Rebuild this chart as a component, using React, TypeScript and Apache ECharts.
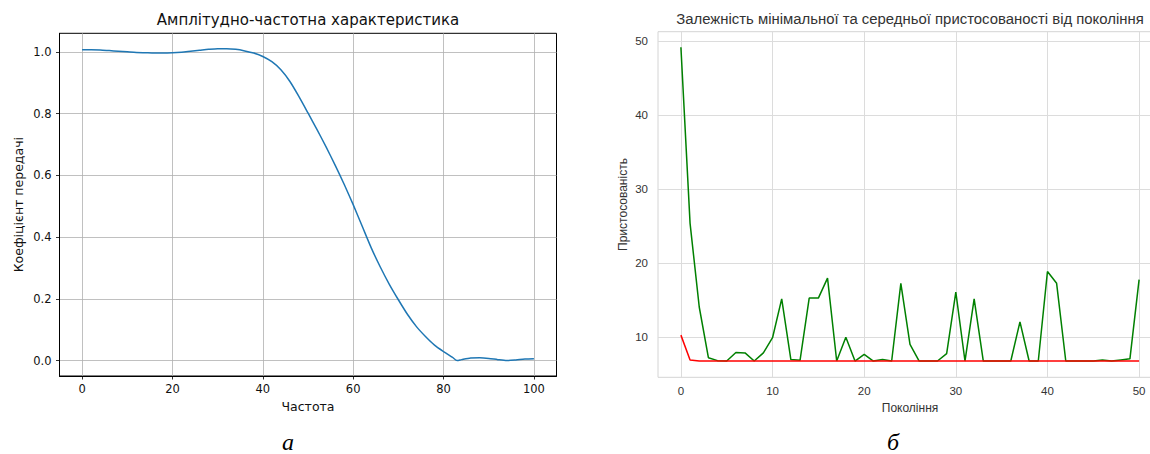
import React, { useEffect, useRef } from "react";
import * as echarts from "echarts";

// Left chart: amplitude-frequency response
const freq = [0, 2, 4, 6, 8, 10, 12, 14, 16, 18, 20, 22, 24, 26, 28, 30, 32, 34, 36, 38, 40, 42, 44, 46, 48, 50, 52, 54, 56, 58, 60, 62, 64, 66, 68, 70, 72, 74, 76, 78, 80, 82, 83, 84, 86, 88, 90, 92, 94, 96, 98, 100];
const gain = [1.007, 1.007, 1.006, 1.004, 1.002, 1.0, 0.998, 0.997, 0.996, 0.996, 0.997, 0.999, 1.002, 1.005, 1.008, 1.01, 1.01, 1.008, 1.003, 0.996, 0.985, 0.968, 0.942, 0.904, 0.855, 0.802, 0.748, 0.692, 0.633, 0.571, 0.505, 0.435, 0.365, 0.303, 0.247, 0.197, 0.15, 0.11, 0.078, 0.05, 0.029, 0.01, 0.0, 0.003, 0.008, 0.009, 0.007, 0.003, 0.0, 0.002, 0.005, 0.006];
const freqTicks = [0, 20, 40, 60, 80, 100];
const gainTicks = [0, 0.2, 0.4, 0.6, 0.8, 1.0];

// Right chart: fitness by generation
const generations = [0, 1, 2, 3, 4, 5, 6, 7, 8, 9, 10, 11, 12, 13, 14, 15, 16, 17, 18, 19, 20, 21, 22, 23, 24, 25, 26, 27, 28, 29, 30, 31, 32, 33, 34, 35, 36, 37, 38, 39, 40, 41, 42, 43, 44, 45, 46, 47, 48, 49, 50];
const avgFitness = [49.2, 25.4, 14.1, 7.25, 6.85, 6.8, 7.95, 7.9, 6.8, 7.9, 9.95, 15.2, 7.0, 6.9, 15.3, 15.3, 18.0, 6.8, 10.0, 6.8, 7.7, 6.8, 7.0, 6.8, 17.3, 9.05, 6.8, 6.8, 6.8, 7.8, 16.1, 6.8, 15.2, 6.8, 6.8, 6.8, 6.8, 12.1, 6.8, 6.8, 18.9, 17.3, 6.8, 6.8, 6.8, 6.8, 6.95, 6.8, 6.95, 7.1, 17.8];
const minFitness = [10.3, 6.95, 6.8, 6.8, 6.8, 6.8, 6.8, 6.8, 6.8, 6.8, 6.8, 6.8, 6.8, 6.8, 6.8, 6.8, 6.8, 6.8, 6.8, 6.8, 6.8, 6.8, 6.8, 6.8, 6.8, 6.8, 6.8, 6.8, 6.8, 6.8, 6.8, 6.8, 6.8, 6.8, 6.8, 6.8, 6.8, 6.8, 6.8, 6.8, 6.8, 6.8, 6.8, 6.8, 6.8, 6.8, 6.8, 6.8, 6.8, 6.8, 6.8];
const genTicks = [0, 10, 20, 30, 40, 50];
const fitTicks = [10, 20, 30, 40, 50];

const leftTitle = "Амплітудно-частотна характеристика";
const rightTitle = "Залежність мінімальної та середньої пристосованості від покоління";

const DV = '"DejaVu Sans", sans-serif';
const AR = '"Liberation Sans", Arial, sans-serif';

export default function App() {
  const ref = useRef<HTMLDivElement>(null);
  useEffect(() => {
    const chart = echarts.init(ref.current!, null, { renderer: "svg" });
    chart.setOption({
      animation: false,
      backgroundColor: "#fff",
      grid: [
        { left: 59.5, top: 33.3, width: 497, height: 342.7, show: true, borderColor: "#000", borderWidth: 1, backgroundColor: "transparent" },
        { left: 658, top: 31.7, width: 504, height: 345.6, show: true, borderColor: "#d4d4d4", borderWidth: 1, backgroundColor: "transparent" },
      ],
      xAxis: [
        {
          type: "value", gridIndex: 0, min: -5, max: 105,
          axisLine: { show: true, onZero: false, lineStyle: { color: "#000", width: 1 } },
          axisTick: { show: true, length: 3.5, customValues: freqTicks, lineStyle: { color: "#000", width: 0.8 } },
          axisLabel: { customValues: freqTicks, margin: 7, fontFamily: DV, fontSize: 11.5, color: "#111", formatter: (v: number) => String(v) },
          splitLine: { show: true, lineStyle: { color: "#b0b0b0", width: 0.8 } },
          name: "Частота", nameLocation: "middle", nameGap: 24,
          nameTextStyle: { fontFamily: DV, fontSize: 12.5, color: "#111" },
        },
        {
          type: "value", gridIndex: 1, min: -2.5, max: 52.5,
          axisLine: { show: false },
          axisTick: { show: false, customValues: genTicks },
          axisLabel: { customValues: genTicks, margin: 8, fontFamily: AR, fontSize: 11.5, color: "#333", formatter: (v: number) => String(v) },
          splitLine: { show: true, lineStyle: { color: "#dcdcdc", width: 1 } },
          name: "Покоління", nameLocation: "middle", nameGap: 25,
          nameTextStyle: { fontFamily: AR, fontSize: 12, color: "#333" },
        },
      ],
      yAxis: [
        {
          type: "value", gridIndex: 0, min: -0.05, max: 1.06,
          axisLine: { show: true, onZero: false, lineStyle: { color: "#000", width: 1 } },
          axisTick: { show: true, length: 3.5, customValues: gainTicks, lineStyle: { color: "#000", width: 0.8 } },
          axisLabel: { customValues: gainTicks, margin: 8, fontFamily: DV, fontSize: 11.5, color: "#111", formatter: (v: number) => v.toFixed(1) },
          splitLine: { show: true, lineStyle: { color: "#b0b0b0", width: 0.8 } },
          name: "Коефіцієнт передачі", nameLocation: "middle", nameGap: 35, nameRotate: 90,
          nameTextStyle: { fontFamily: DV, fontSize: 12.5, color: "#111" },
        },
        {
          type: "value", gridIndex: 1, min: 4.6, max: 51.3,
          axisLine: { show: false },
          axisTick: { show: false, customValues: fitTicks },
          axisLabel: { customValues: fitTicks, margin: 10, fontFamily: AR, fontSize: 11.5, color: "#333", formatter: (v: number) => String(v) },
          splitLine: { show: true, lineStyle: { color: "#dcdcdc", width: 1 } },
          name: "Пристосованість", nameLocation: "middle", nameGap: 29, nameRotate: 90,
          nameTextStyle: { fontFamily: AR, fontSize: 12, color: "#333" },
        },
      ],
      series: [
        {
          type: "line", xAxisIndex: 0, yAxisIndex: 0,
          data: freq.map((f, i) => [f, gain[i]]),
          showSymbol: false, smooth: 0.25,
          lineStyle: { color: "#1f77b4", width: 1.5 },
        },
        {
          type: "line", xAxisIndex: 1, yAxisIndex: 1,
          data: generations.map((g, i) => [g, avgFitness[i]]),
          showSymbol: false,
          lineStyle: { color: "#008000", width: 1.5 },
        },
        {
          type: "line", xAxisIndex: 1, yAxisIndex: 1,
          data: generations.map((g, i) => [g, minFitness[i]]),
          showSymbol: false,
          lineStyle: { color: "#ff0000", width: 1.5 },
        },
      ],
      graphic: [
        { type: "text", x: 308, y: 20, style: { text: leftTitle, font: `15px ${DV}`, fill: "#111", align: "center", verticalAlign: "middle", textAlign: "center", textVerticalAlign: "middle" } },
        { type: "text", x: 910, y: 19, style: { text: rightTitle, font: `14.9px ${AR}`, fill: "#333", align: "center", verticalAlign: "middle", textAlign: "center", textVerticalAlign: "middle" } },
        { type: "text", x: 288, y: 442, style: { text: "а", font: `italic 24px "Liberation Serif", serif`, fill: "#000", align: "center", verticalAlign: "middle", textAlign: "center", textVerticalAlign: "middle" } },
        { type: "text", x: 893, y: 442, style: { text: "б", font: `italic 24px "Liberation Serif", serif`, fill: "#000", align: "center", verticalAlign: "middle", textAlign: "center", textVerticalAlign: "middle" } },
      ],
    });
    return () => chart.dispose();
  }, []);
  return (
    <div style={{ position: "absolute", left: 0, top: 0, width: 1150, height: 454, overflow: "hidden", background: "#fff" }}>
      <div ref={ref} style={{ width: 1170, height: 454 }} />
    </div>
  );
}
